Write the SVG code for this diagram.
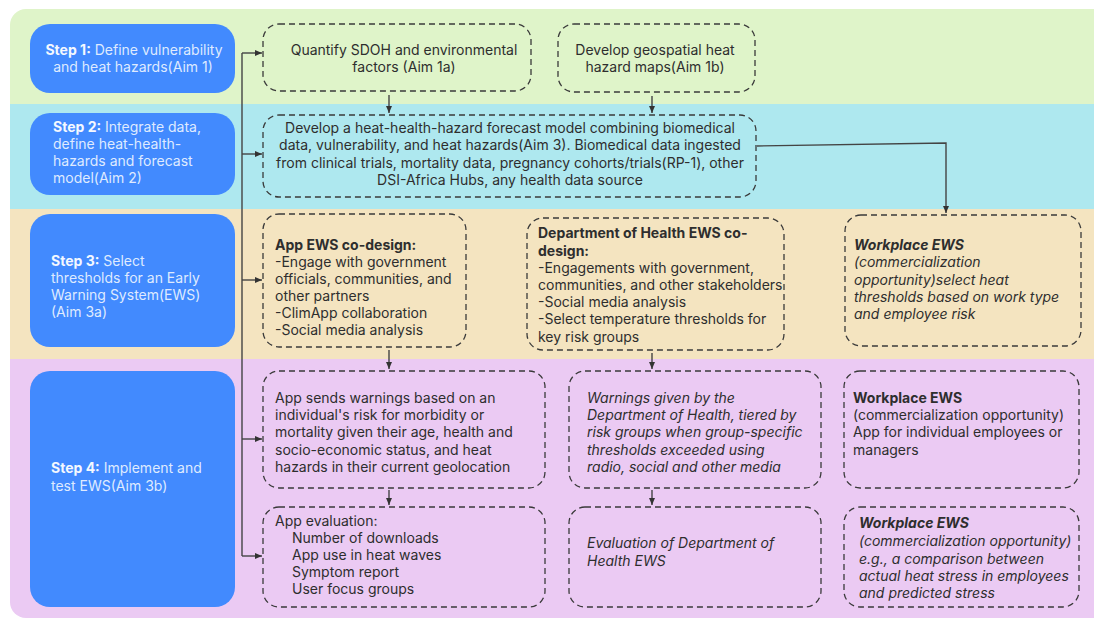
<svg xmlns="http://www.w3.org/2000/svg" width="1094" height="621" viewBox="0 0 1094 621">
<defs>
<marker id="ah" markerWidth="8" markerHeight="8" refX="7" refY="4" orient="auto" markerUnits="userSpaceOnUse">
<path d="M0,1 L7,4 L0,7 Z" fill="#333"/>
</marker>
<clipPath id="cont"><rect x="10" y="9" width="1110" height="609" rx="16"/></clipPath>
</defs>
<style>
.step{fill:#428AFE}
.box{fill:none;stroke:#3a3a3a;stroke-width:1.3;stroke-dasharray:6 4}
.t{font-family:Inter,"Liberation Sans",sans-serif;font-size:14px;fill:#2e2e2e}
.st{font-family:Inter,"Liberation Sans",sans-serif;font-size:14px;fill:#dfeaff}
.b{font-weight:bold}
.i{font-style:italic}
.sb{font-weight:bold;fill:#f4f8ff}
.con{fill:none;stroke:#444;stroke-width:1.4}
</style>
<g id="bands" clip-path="url(#cont)">
<rect x="0" y="0" width="1100" height="104" fill="#DFF4C9"/>
<rect x="0" y="104" width="1100" height="105" fill="#AEE8EF"/>
<rect x="0" y="209" width="1100" height="150" fill="#F4E4C0"/>
<rect x="0" y="359" width="1100" height="262" fill="#EBCAF3"/>
</g>
<g id="step1"><rect class="step" x="30" y="24" width="205" height="69" rx="20"/>
<text class="st" text-anchor="middle"><tspan x="134" y="55"><tspan class="sb">Step 1:</tspan> Define vulnerability</tspan><tspan x="133" y="72">and heat hazards(Aim 1)</tspan></text></g>
<g id="step2"><rect class="step" x="30" y="113" width="205" height="82" rx="20"/>
<text class="st"><tspan x="53" y="132"><tspan class="sb">Step 2:</tspan> Integrate data,</tspan><tspan x="53" y="149">define heat-health-</tspan><tspan x="53" y="166">hazards and forecast</tspan><tspan x="53" y="183">model(Aim 2)</tspan></text></g>
<g id="step3"><rect class="step" x="30" y="214" width="205" height="133" rx="20"/>
<text class="st"><tspan x="51" y="266"><tspan class="sb">Step 3:</tspan> Select</tspan><tspan x="51" y="283">thresholds for an Early</tspan><tspan x="51" y="300">Warning System(EWS)</tspan><tspan x="51" y="317">(Aim 3a)</tspan></text></g>
<g id="step4"><rect class="step" x="30" y="371" width="205" height="236" rx="20"/>
<text class="st"><tspan x="51" y="473"><tspan class="sb">Step 4:</tspan> Implement and</tspan><tspan x="51" y="491">test EWS(Aim 3b)</tspan></text></g>
<g id="n1a"><rect class="box" x="263" y="24" width="268" height="67" rx="16"/>
<text class="t" text-anchor="middle"><tspan x="404" y="55">Quantify SDOH and environmental</tspan><tspan x="404" y="72">factors (Aim 1a)</tspan></text></g>
<g id="n1b"><rect class="box" x="558" y="24" width="197" height="68" rx="16"/>
<text class="t" text-anchor="middle"><tspan x="655" y="55">Develop geospatial heat</tspan><tspan x="655" y="72">hazard maps(Aim 1b)</tspan></text></g>
<g id="n2"><rect class="box" x="263" y="115" width="493" height="82" rx="16"/>
<text class="t" text-anchor="middle"><tspan x="510" y="133">Develop a heat-health-hazard forecast model combining biomedical</tspan><tspan x="510" y="150">data, vulnerability, and heat hazards(Aim 3). Biomedical data ingested</tspan><tspan x="510" y="168">from clinical trials, mortality data, pregnancy cohorts/trials(RP-1), other</tspan><tspan x="510" y="185">DSI-Africa Hubs, any health data source</tspan></text></g>
<g id="n3a"><rect class="box" x="263" y="214" width="203" height="133" rx="16"/>
<text class="t"><tspan x="275" y="250" class="b">App EWS co-design:</tspan><tspan x="275" y="267">-Engage with government</tspan><tspan x="275" y="284">officials, communities, and</tspan><tspan x="275" y="301">other partners</tspan><tspan x="275" y="318">-ClimApp collaboration</tspan><tspan x="275" y="335">-Social media analysis</tspan></text></g>
<g id="n3b"><rect class="box" x="527" y="218" width="257" height="132" rx="16"/>
<text class="t"><tspan x="538" y="238" class="b">Department of Health EWS co-</tspan><tspan x="538" y="256" class="b">design:</tspan><tspan x="538" y="273">-Engagements with government,</tspan><tspan x="538" y="290">communities, and other stakeholders</tspan><tspan x="538" y="307">-Social media analysis</tspan><tspan x="538" y="324">-Select temperature thresholds for</tspan><tspan x="538" y="342">key risk groups</tspan></text></g>
<g id="n3c"><rect class="box" x="845" y="215" width="236" height="131" rx="16"/>
<text class="t i"><tspan x="854" y="250" class="b">Workplace EWS</tspan><tspan x="854" y="267">(commercialization</tspan><tspan x="854" y="285">opportunity)select heat</tspan><tspan x="854" y="302">thresholds based on work type</tspan><tspan x="854" y="319">and employee risk</tspan></text></g>
<g id="n4a"><rect class="box" x="263" y="371" width="282" height="117" rx="16"/>
<text class="t"><tspan x="275" y="403">App sends warnings based on an</tspan><tspan x="275" y="420">individual's risk for morbidity or</tspan><tspan x="275" y="437">mortality given their age, health and</tspan><tspan x="275" y="455">socio-economic status, and heat</tspan><tspan x="275" y="472">hazards in their current geolocation</tspan></text></g>
<g id="n4b"><rect class="box" x="569" y="371" width="252" height="117" rx="16"/>
<text class="t i"><tspan x="587" y="403">Warnings given by the</tspan><tspan x="587" y="420">Department of Health, tiered by</tspan><tspan x="587" y="437">risk groups when group-specific</tspan><tspan x="587" y="455">thresholds exceeded using</tspan><tspan x="587" y="472">radio, social and other media</tspan></text></g>
<g id="n4c"><rect class="box" x="844" y="371" width="235" height="117" rx="16"/>
<text class="t"><tspan x="853" y="403" class="b">Workplace EWS</tspan><tspan x="853" y="420">(commercialization opportunity)</tspan><tspan x="853" y="437">App for individual employees or</tspan><tspan x="853" y="455">managers</tspan></text></g>
<g id="n5a"><rect class="box" x="263" y="507" width="282" height="100" rx="16"/>
<text class="t"><tspan x="275" y="526">App evaluation:</tspan><tspan x="292" y="543">Number of downloads</tspan><tspan x="292" y="560">App use in heat waves</tspan><tspan x="292" y="577">Symptom report</tspan><tspan x="292" y="594">User focus groups</tspan></text></g>
<g id="n5b"><rect class="box" x="569" y="507" width="252" height="100" rx="16"/>
<text class="t i"><tspan x="587" y="548">Evaluation of Department of</tspan><tspan x="587" y="566">Health EWS</tspan></text></g>
<g id="n5c"><rect class="box" x="844" y="507" width="235" height="100" rx="16"/>
<text class="t i"><tspan x="859" y="528" class="b">Workplace EWS</tspan><tspan x="859" y="546">(commercialization opportunity)</tspan><tspan x="859" y="564">e.g., a comparison between</tspan><tspan x="859" y="581">actual heat stress in employees</tspan><tspan x="859" y="598">and predicted stress</tspan></text></g>
<g id="connectors">
<path class="con" d="M242,53 V556" stroke="#555"/>
<path class="con" d="M242,53 H262" marker-end="url(#ah)"/>
<path class="con" d="M242,154 H262" marker-end="url(#ah)"/>
<path class="con" d="M242,280 H262" marker-end="url(#ah)"/>
<path class="con" d="M242,439 H262" marker-end="url(#ah)"/>
<path class="con" d="M242,556 H262" marker-end="url(#ah)"/>
<path class="con" d="M389,95 V113" marker-end="url(#ah)"/>
<path class="con" d="M652,96 V113" marker-end="url(#ah)"/>
<path class="con" d="M757,146 L946,143 V213" marker-end="url(#ah)"/>
<path class="con" d="M389,350 V369" marker-end="url(#ah)"/>
<path class="con" d="M652,353 V369" marker-end="url(#ah)"/>
<path class="con" d="M389,490 V505" marker-end="url(#ah)"/>
<path class="con" d="M652,490 V505" marker-end="url(#ah)"/>
</g>
</svg>
